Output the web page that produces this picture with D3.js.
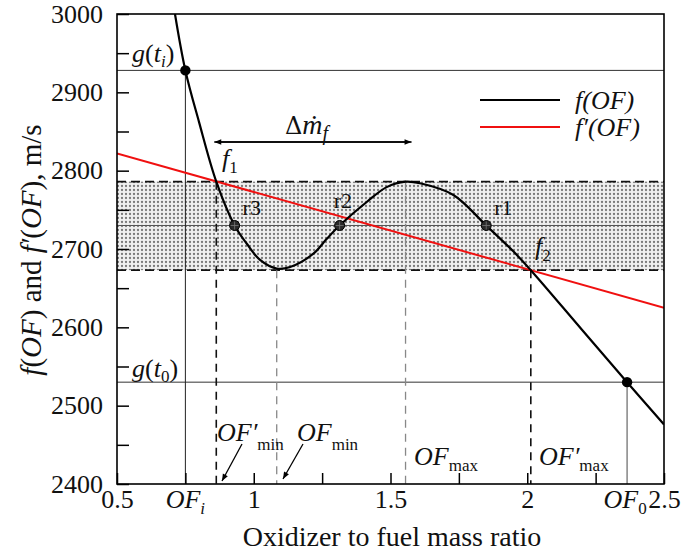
<!DOCTYPE html>
<html>
<head>
<meta charset="utf-8">
<script src="https://cdn.jsdelivr.net/npm/d3@7"></script>
<style>
  body { margin: 0; background: #fff; }
  svg text { font-family: "Liberation Serif", "Times New Roman", serif; fill: #111; }
  .it { font-style: italic; }
</style>
</head>
<body>
<svg id="chart" width="683" height="559"></svg>
<script>
// axis ticks
const xTicks = [0.5, 0.75, 1, 1.25, 1.5, 1.75, 2, 2.25, 2.5];
const xLabels = [0.5, 1, 1.5, 2, 2.5];
const yTicks = [2400, 2450, 2500, 2550, 2600, 2650, 2700, 2750, 2800, 2850, 2900, 2950, 3000];
const yLabels = [2400, 2500, 2600, 2700, 2800, 2900, 3000];

// f(OF)
const fOF = [0.712, 0.75, 0.80, 0.863, 0.93, 0.974, 1.023, 1.084, 1.133, 1.218, 1.267, 1.314,
             1.413, 1.486, 1.555, 1.608, 1.73, 1.85, 1.949, 2.013, 2.2, 2.365, 2.5];
const fVal = [3000, 2928, 2862, 2786, 2730, 2707, 2686, 2675, 2677, 2694, 2713, 2730,
              2760, 2779, 2786, 2784, 2769, 2730, 2697, 2673, 2597, 2530, 2476];

// f'(OF) straight line
const dOF = [0.5, 2.5];
const dVal = [2822, 2625];

// levels and characteristic ratios
const gTi = 2928, gT0 = 2530, gMid = 2730;
const bandLo = 2673, bandHi = 2786;
const OFi = 0.75, OF0 = 2.365;
const OFminP = 0.863, OFmin = 1.084, OFmax = 1.555, OFmaxP = 2.013;
const rootOF = [1.85, 1.314, 0.93];
const rootName = ["r1", "r2", "r3"];

const svg = d3.select("#chart");
const pL = 117, pR = 664, pT = 14, pB = 484;
const x = d3.scaleLinear().domain([0.5, 2.5]).range([pL, pR]);
const y = d3.scaleLinear().domain([2400, 3000]).range([pB, pT]);

const defs = svg.append("defs");
const pat = defs.append("pattern").attr("id", "dots")
    .attr("width", 4).attr("height", 4).attr("patternUnits", "userSpaceOnUse");
pat.append("rect").attr("width", 4).attr("height", 4).attr("fill", "#f0f0f0");
pat.append("circle").attr("cx", 2).attr("cy", 2).attr("r", 1.15).attr("fill", "#7a7a7a");
defs.append("clipPath").attr("id", "clip").append("rect")
    .attr("x", pL).attr("y", pT).attr("width", pR - pL).attr("height", pB - pT);
defs.append("marker").attr("id", "ah").attr("viewBox", "0 0 10 10")
    .attr("refX", 10).attr("refY", 5).attr("markerWidth", 10).attr("markerHeight", 7)
    .attr("markerUnits", "userSpaceOnUse").attr("orient", "auto")
  .append("path").attr("d", "M0,1 L10,5 L0,9 Z").attr("fill", "#000");

const plot = svg.append("g").attr("clip-path", "url(#clip)");

// shaded band
plot.append("rect")
    .attr("x", pL).attr("width", pR - pL)
    .attr("y", y(bandHi)).attr("height", y(bandLo) - y(bandHi))
    .attr("fill", "url(#dots)");
[bandHi, bandLo].forEach(v => {
  plot.append("line").attr("x1", pL).attr("x2", pR)
      .attr("y1", y(v)).attr("y2", y(v))
      .attr("stroke", "#111").attr("stroke-width", 1.6).attr("stroke-dasharray", "9,5");
});

// horizontal levels
[gTi, gT0].forEach(v => {
  plot.append("line").attr("x1", pL).attr("x2", pR)
      .attr("y1", y(v)).attr("y2", y(v)).attr("stroke", "#333").attr("stroke-width", 1);
});
plot.append("line").attr("x1", pL).attr("x2", pR)
    .attr("y1", y(gMid)).attr("y2", y(gMid)).attr("stroke", "#555").attr("stroke-width", 1);

// verticals
plot.append("line").attr("x1", x(OFi)).attr("x2", x(OFi))
    .attr("y1", y(gTi)).attr("y2", pB).attr("stroke", "#222").attr("stroke-width", 1);
plot.append("line").attr("x1", x(OF0)).attr("x2", x(OF0))
    .attr("y1", y(gT0)).attr("y2", pB).attr("stroke", "#666").attr("stroke-width", 1.2);
[[OFminP, bandHi, "#111", 1.6], [OFmaxP, bandLo, "#111", 1.6],
 [OFmin, bandLo, "#888", 1.3], [OFmax, bandHi, "#888", 1.3]].forEach(([of, v, c, w]) => {
  plot.append("line").attr("x1", x(of)).attr("x2", x(of))
      .attr("y1", y(v)).attr("y2", pB)
      .attr("stroke", c).attr("stroke-width", w).attr("stroke-dasharray", "8,6");
});

// f'(OF)
plot.append("path")
    .datum(dOF.map((d, i) => [d, dVal[i]]))
    .attr("d", d3.line().x(d => x(d[0])).y(d => y(d[1])))
    .attr("fill", "none").attr("stroke", "#f01010").attr("stroke-width", 2);

// f(OF)
plot.append("path")
    .datum(fOF.map((d, i) => [d, fVal[i]]))
    .attr("d", d3.line().x(d => x(d[0])).y(d => y(d[1])).curve(d3.curveCatmullRom.alpha(0.5)))
    .attr("fill", "none").attr("stroke", "#000").attr("stroke-width", 2.2);

// points
[[OFi, gTi], [OF0, gT0]].forEach(([of, v]) => {
  svg.append("circle").attr("cx", x(of)).attr("cy", y(v)).attr("r", 5.2).attr("fill", "#000");
});
rootOF.forEach(of => {
  const cx = x(of), cy = y(gMid);
  svg.append("circle").attr("cx", cx).attr("cy", cy).attr("r", 5)
      .attr("fill", "#2a2a2a").attr("stroke", "#000").attr("stroke-width", 1);
  svg.append("path").attr("d", `M${cx - 4},${cy}H${cx + 4}M${cx},${cy - 4}V${cy + 4}`)
      .attr("stroke", "#777").attr("stroke-width", 0.8);
});

// frame
svg.append("rect").attr("x", pL).attr("y", pT)
    .attr("width", pR - pL).attr("height", pB - pT)
    .attr("fill", "none").attr("stroke", "#000").attr("stroke-width", 1.6);

// axes
const xAxis = svg.append("g").attr("transform", `translate(0,${pB})`)
    .call(d3.axisBottom(x).tickValues(xTicks).tickSizeInner(-11).tickSizeOuter(0).tickPadding(6)
      .tickFormat(d => xLabels.includes(d) ? d3.format("")(d) : ""));
xAxis.select(".domain").remove();
xAxis.selectAll("line").attr("stroke", "#000").attr("stroke-width", 1.5);
xAxis.selectAll("text").attr("font-size", 26).attr("font-family", "Liberation Serif").attr("fill", "#111");

const yAxis = svg.append("g").attr("transform", `translate(${pL},0)`)
    .call(d3.axisLeft(y).tickValues(yTicks).tickSizeInner(-12).tickSizeOuter(0).tickPadding(14)
      .tickFormat(d => yLabels.includes(d) ? d : ""));
yAxis.select(".domain").remove();
yAxis.selectAll("line").attr("stroke", "#000").attr("stroke-width", 1.5);
yAxis.selectAll("text").attr("font-size", 26).attr("font-family", "Liberation Serif").attr("fill", "#111");

// label with a subscript part
function subLabel(px, py, main, sub, opts = {}) {
  const t = svg.append("text").attr("x", px).attr("y", py)
      .attr("font-size", opts.size || 26).attr("text-anchor", opts.anchor || "start");
  main.forEach(([s, it]) => t.append("tspan").attr("class", it ? "it" : null).text(s));
  if (sub) {
    t.append("tspan").attr("class", opts.subIt ? "it" : null)
        .attr("font-size", opts.subSize || 17).attr("dy", opts.subDy || 6).text(sub);
  }
  if (opts.after) {
    t.append("tspan").attr("dy", -(opts.subDy || 6)).text(opts.after);
  }
  return t;
}

// extra x labels
subLabel(x(OFi), 508, [["OF", true]], "i", { anchor: "middle", size: 26, subIt: true, subSize: 17 });
subLabel(x(OF0) - 2, 508, [["OF", true]], "0", { anchor: "middle", size: 26, subSize: 17 });

// level labels
subLabel(132, 62, [["g", true], ["(", false], ["t", true]], "i", { size: 26, subIt: true, subDy: 5, after: ")" });
subLabel(132, 377, [["g", true], ["(", false], ["t", true]], "0", { size: 26, subDy: 5, after: ")" });

// intersections
subLabel(222, 167, [["f", true]], "1", { size: 26, subDy: 6 });
subLabel(535, 255, [["f", true]], "2", { size: 26, subDy: 6 });
rootOF.forEach((of, i) => {
  const dx = i === 1 ? -6 : 8, py = i === 1 ? 208 : 215;
  svg.append("text").attr("x", x(of) + dx).attr("y", py).attr("font-size", 22).text(rootName[i]);
});

// characteristic ratio labels
subLabel(217, 441, [["OF′", true]], "min", { size: 26, subDy: 9 });
subLabel(297, 441, [["OF", true]], "min", { size: 26, subDy: 9 });
subLabel(414, 465, [["OF", true]], "max", { size: 26, subDy: 6 });
subLabel(539, 465, [["OF′", true]], "max", { size: 26, subDy: 6 });

svg.append("line").attr("x1", 242).attr("y1", 444).attr("x2", 222).attr("y2", 481)
    .attr("stroke", "#000").attr("stroke-width", 1.3).attr("marker-end", "url(#ah)");
svg.append("line").attr("x1", 303).attr("y1", 444).attr("x2", 283).attr("y2", 479)
    .attr("stroke", "#000").attr("stroke-width", 1.3).attr("marker-end", "url(#ah)");

// fuel flow span, arrows both ways
svg.append("line").attr("x1", x(OFmax)).attr("x2", x(OFminP) - 2)
    .attr("y1", 142).attr("y2", 142)
    .attr("stroke", "#000").attr("stroke-width", 1.3).attr("marker-end", "url(#ah)");
svg.append("line").attr("x1", x(OFminP)).attr("x2", x(OFmax) + 6)
    .attr("y1", 142).attr("y2", 142)
    .attr("stroke", "#000").attr("stroke-width", 1.3).attr("marker-end", "url(#ah)");
const dm = svg.append("text").attr("x", 285).attr("y", 134).attr("font-size", 28);
dm.append("tspan").attr("font-family", "DejaVu Serif").attr("font-size", 24).text("Δ");
dm.append("tspan").attr("class", "it").text("ṁ");
dm.append("tspan").attr("class", "it").attr("font-size", 20).attr("dy", 6).text("f");

// legend
const legend = [["#000", "f(OF)", 100], ["#f01010", "f′(OF)", 127]];
legend.forEach(([c, label, ly]) => {
  svg.append("line").attr("x1", 480).attr("x2", 560).attr("y1", ly).attr("y2", ly)
      .attr("stroke", c).attr("stroke-width", 2.2);
  svg.append("text").attr("class", "it").attr("x", 575).attr("y", ly + 9)
      .attr("font-size", 26).text(label);
});

// axis titles
svg.append("text").attr("x", 392).attr("y", 546).attr("text-anchor", "middle")
    .attr("font-size", 28).text("Oxidizer to fuel mass ratio");
const yt = svg.append("text").attr("transform", `translate(41,250) rotate(-90)`)
    .attr("text-anchor", "middle").attr("font-size", 29);
yt.append("tspan").attr("class", "it").text("f");
yt.append("tspan").text("(");
yt.append("tspan").attr("class", "it").text("OF");
yt.append("tspan").text(") and ");
yt.append("tspan").attr("class", "it").text("f′");
yt.append("tspan").text("(");
yt.append("tspan").attr("class", "it").text("OF");
yt.append("tspan").text("), m/s");
</script>
</body>
</html>
